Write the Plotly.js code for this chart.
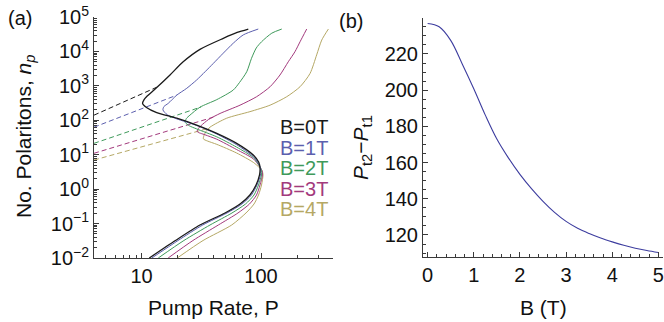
<!DOCTYPE html>
<html>
<head>
<meta charset="utf-8">
<script src="https://cdn.plot.ly/plotly-3.0.1.min.js"></script>
<style>html,body{margin:0;padding:0;background:#fff;}#chart{width:664px;height:322px;}</style>
</head>
<body>
<div id="chart"></div>
<script>
// ---------- Panel (a): number of polaritons vs pump rate ----------
const seriesLabels = ["B=0T", "B=1T", "B=2T", "B=3T", "B=4T"];
const seriesColors = ["#1a1a1a", "#5c5fae", "#3f9a5b", "#a33a7d", "#b5a865"];

// solid curves (P, n), traced from the lower branch, round the turning point, back to the nose and up
const P_B0 = [11.6, 19.2, 30.8, 49.9, 66.7, 80.7, 90.8, 97.1, 98.0, 95.7, 86.1, 62.5, 42.6, 28.9, 19.7, 13.4, 11.0, 10.2, 10.5, 11.0, 13.4, 17.3, 22.3, 30.8, 48.3, 63.1, 78.2];
const n_B0 = [0.01, 0.0322, 0.0908, 0.203, 0.370, 0.676, 1.32, 2.58, 4.11, 6.0, 9.8, 21.4, 41.7, 72.4, 115, 166, 234, 309, 398, 484, 891, 2065, 5000, 11500, 24000, 35500, 44700];

const P_B1 = [12.2, 20.2, 32.5, 51.9, 69.2, 83.1, 92.5, 98.9, 99.3, 95.2, 86.1, 62.5, 42.6, 28.9, 19.7, 16.4, 15.1, 15.4, 16.7, 19.7, 23.9, 28.9, 34.0, 39.8, 48.3, 58.6, 71.0, 94.8];
const n_B1 = [0.01, 0.0322, 0.0908, 0.203, 0.370, 0.676, 1.32, 2.58, 3.9, 5.6, 8.9, 19.5, 39.8, 70.8, 110, 145, 200, 251, 309, 537, 851, 1480, 2570, 4470, 8910, 17400, 30200, 44700];

const P_B2 = [13.8, 22.6, 37.4, 57.1, 74.1, 87.3, 95.2, 100.9, 100.9, 96.0, 86.1, 62.5, 42.6, 28.9, 25.1, 23.2, 23.7, 25.4, 30.8, 42.6, 58.6, 66.1, 75.9, 83.2, 91.2, 101, 123, 149];
const n_B2 = [0.01, 0.0322, 0.0908, 0.203, 0.370, 0.676, 1.32, 2.58, 3.5, 5.0, 8.3, 16.6, 33.1, 56.2, 69.2, 87, 112, 141, 240, 398, 759, 1260, 2570, 6310, 12600, 19100, 33900, 44700];

const P_B3 = [16.7, 26.9, 43.9, 64.1, 80.0, 91.6, 98.0, 102.7, 102.0, 97.0, 86.1, 62.5, 42.6, 33.9, 29.2, 29.9, 31.6, 36.3, 45.4, 66.7, 91.8, 119, 144, 169, 192, 212, 241];
const n_B3 = [0.01, 0.0322, 0.0908, 0.203, 0.370, 0.676, 1.32, 2.58, 3.4, 4.6, 7.6, 14.1, 28.2, 38, 46.8, 57.5, 70.8, 105, 158, 275, 484, 944, 2065, 5010, 9770, 19100, 44700];

const P_B4 = [19.9, 32.7, 56.8, 74.8, 87.3, 95.2, 100.9, 103.8, 102.5, 97.0, 86.1, 62.5, 42.6, 35.5, 32.9, 33.3, 34.7, 37.4, 51.6, 80.7, 119, 164, 212, 257, 292, 322, 366];
const n_B4 = [0.01, 0.0322, 0.0908, 0.203, 0.370, 0.676, 1.32, 2.58, 3.3, 4.2, 6.0, 11.2, 20, 25.1, 28.8, 36.3, 47.9, 63.1, 115, 178, 275, 484, 944, 2290, 7940, 21400, 44700];

// dashed curves (P, n)
const Pd_B0 = [4, 13.4];   const nd_B0 = [141, 912];
const Pd_B1 = [4, 19.7];   const nd_B1 = [63, 537];
const Pd_B2 = [4, 31.6];   const nd_B2 = [21.4, 245];
const Pd_B3 = [4, 39.8];   const nd_B3 = [11, 123];
const Pd_B4 = [4, 37.4];   const nd_B4 = [7.0, 60];

const xTickValsA = [10, 100];
const xTickTextA = ["10", "100"];
const yTickValsA = [0.01, 0.1, 1, 10, 100, 1000, 10000, 100000];
const yTickTextA = ["10<sup>\u22122</sup>", "10<sup>\u22121</sup>", "10<sup>0</sup>", "10<sup>1</sup>", "10<sup>2</sup>", "10<sup>3</sup>", "10<sup>4</sup>", "10<sup>5</sup>"];

// ---------- Panel (b): threshold difference vs B ----------
const B_field = [0, 0.25, 0.5, 0.75, 1.0, 1.25, 1.5, 1.75, 2.0, 2.25, 2.5, 2.75, 3.0, 3.25, 3.5, 3.75, 4.0, 4.25, 4.5, 4.75, 5.0];
const P_diff  = [236.8, 235.0, 227.5, 214.5, 200.8, 186.2, 173.0, 162.6, 153.5, 145.6, 138.6, 132.5, 127.5, 123.7, 120.8, 118.3, 116.2, 114.3, 112.7, 111.4, 110.3];
const xTickValsB = [0, 1, 2, 3, 4, 5];
const yTickValsB = [120, 140, 160, 180, 200, 220];

// ---------- build ----------
const W = 664, H = 322;
const FONT = "Liberation Sans, Arial, Helvetica, sans-serif";
const axisColor = "#3a3a3a";

const solids = [[P_B0, n_B0], [P_B1, n_B1], [P_B2, n_B2], [P_B3, n_B3], [P_B4, n_B4]];
const dashes = [[Pd_B0, nd_B0], [Pd_B1, nd_B1], [Pd_B2, nd_B2], [Pd_B3, nd_B3], [Pd_B4, nd_B4]];

const traces = [];
for (let i = solids.length - 1; i >= 0; i--) {
  traces.push({x: dashes[i][0], y: dashes[i][1], xaxis: "x", yaxis: "y", mode: "lines",
    line: {color: seriesColors[i], width: 1, dash: "5px,3px"}, hoverinfo: "skip", showlegend: false});
  traces.push({x: solids[i][0], y: solids[i][1], xaxis: "x", yaxis: "y", mode: "lines",
    line: {color: seriesColors[i], width: i === 0 ? 1.3 : 1, shape: "spline", smoothing: 0.7},
    hoverinfo: "skip", showlegend: false});
}
traces.push({x: B_field, y: P_diff, xaxis: "x2", yaxis: "y2", mode: "lines",
  line: {color: "#3d3d9f", width: 1.1, shape: "spline", smoothing: 1}, hoverinfo: "skip", showlegend: false});

function minorLog(lo, hi) {
  const v = [];
  for (let e = lo; e <= hi; e++) for (let m = 2; m <= 9; m++) v.push(m * Math.pow(10, e));
  return v;
}
function range(a, b, s) { const v = []; for (let x = a; x <= b + 1e-9; x += s) v.push(+x.toFixed(6)); return v; }

const px = (x) => x / W;
const py = (y) => 1 - y / H;

const commonAxis = {
  showline: true, linecolor: axisColor, linewidth: 1, mirror: false,
  showgrid: false, zeroline: false, ticks: "inside", ticklen: 5, tickwidth: 1, tickcolor: axisColor,
  tickfont: {family: FONT, size: 20, color: "#111"}, fixedrange: true
};

const layout = {
  width: W, height: H, margin: {l: 0, r: 0, t: 0, b: 0},
  paper_bgcolor: "#fff", plot_bgcolor: "#fff", showlegend: false,
  font: {family: FONT, color: "#111"},
  xaxis: Object.assign({}, commonAxis, {
    type: "log", domain: [px(94), px(333)], range: [Math.log10(4), Math.log10(400)], anchor: "y",
    tickmode: "array", tickvals: xTickValsA, ticktext: xTickTextA,
    minor: {tickmode: "array", tickvals: [5, 6, 7, 8, 9, 20, 30, 40, 50, 60, 70, 80, 90, 200, 300], ticklen: 3, ticks: "inside", tickcolor: axisColor}
  }),
  yaxis: Object.assign({}, commonAxis, {
    type: "log", domain: [py(258), py(17)], range: [-2, 5], anchor: "x",
    tickmode: "array", tickvals: yTickValsA, ticktext: yTickTextA,
    minor: {tickmode: "array", tickvals: minorLog(-2, 4), ticklen: 3, ticks: "inside", tickcolor: axisColor}
  }),
  xaxis2: Object.assign({}, commonAxis, {
    domain: [px(423), px(663)], range: [-0.1, 5.1], anchor: "y2",
    tickmode: "array", tickvals: xTickValsB,
    minor: {tickmode: "array", tickvals: range(0, 5.0, 0.2), ticklen: 3, ticks: "inside", tickcolor: axisColor}
  }),
  yaxis2: Object.assign({}, commonAxis, {
    domain: [py(256.7), py(18.3)], range: [108, 239.7], anchor: "x2",
    tickmode: "array", tickvals: yTickValsB,
    minor: {tickmode: "array", tickvals: range(110, 235, 5), ticklen: 3, ticks: "inside", tickcolor: axisColor}
  }),
  annotations: []
};

function ann(text, x, y, opt) {
  layout.annotations.push(Object.assign({
    text: text, xref: "paper", yref: "paper", x: px(x), y: py(y),
    xanchor: "center", yanchor: "middle", showarrow: false, borderpad: 0,
    font: {family: FONT, size: 21, color: "#111"}
  }, opt || {}));
}
ann("(a)", 20, 18, {font: {family: FONT, size: 20, color: "#111"}});
ann("(b)", 351, 21, {font: {family: FONT, size: 20, color: "#111"}});
ann("Pump Rate, P", 213, 307);
ann("No. Polaritons, <i>n</i><sub><i>p</i></sub>", 25, 137, {textangle: -90});
ann("B (T)", 543, 307);
ann("<i>P</i><sub>t2</sub>\u2212<i>P</i><sub>t1</sub>", 362, 148, {textangle: -90});

const legendY = [127, 147.5, 168, 188.5, 209];
for (let i = 0; i < seriesLabels.length; i++) {
  ann(seriesLabels[i], 279, legendY[i], {xanchor: "left", font: {family: FONT, size: 20, color: seriesColors[i]}});
}

Plotly.newPlot("chart", traces, layout, {staticPlot: true, displayModeBar: false});
</script>
</body>
</html>
